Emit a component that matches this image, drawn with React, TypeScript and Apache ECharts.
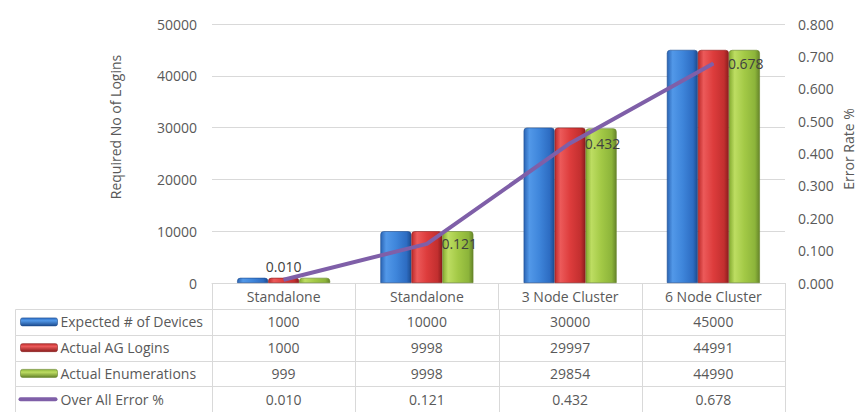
import React, { useEffect, useRef } from "react";
import * as echarts from "echarts";

const categories = ["Standalone", "Standalone", "3 Node Cluster", "6 Node Cluster"];
const expectedDevices = [1000, 10000, 30000, 45000];
const actualLogins = [1000, 9998, 29997, 44991];
const actualEnumerations = [999, 9998, 29854, 44990];
const errorRate = [0.01, 0.121, 0.432, 0.678];
const seriesNames = ["Expected # of Devices", "Actual AG Logins", "Actual Enumerations", "Over All Error %"];
const leftAxisTitle = "Required No of Logins";
const rightAxisTitle = "Error Rate %";

const FONT = "Open Sans";
const TXT = "#595959";
const GRID = "#d9d9d9";

const barColors = [
  { stops: ["#2a64b4", "#5298e8", "#3f86db", "#2d6cc2", "#1d4c8f"], edge: "#1d4c8f" },
  { stops: ["#bd2a2a", "#ec5a5a", "#dd3c3c", "#c22f2f", "#8c1d1d"], edge: "#8c1d1d" },
  { stops: ["#84ab30", "#bddd62", "#a3c946", "#8cb43a", "#66852a"], edge: "#66852a" },
];
const lineColor = "#7f5fa8";

function grad(stops: string[]) {
  return new echarts.graphic.LinearGradient(0, 0, 1, 0, [
    { offset: 0, color: stops[0] },
    { offset: 0.18, color: stops[1] },
    { offset: 0.5, color: stops[2] },
    { offset: 0.85, color: stops[3] },
    { offset: 1, color: stops[4] },
  ]);
}

export default function App() {
  const ref = useRef<HTMLDivElement>(null);
  useEffect(() => {
    if (!ref.current) return;
    const chart = echarts.init(ref.current, undefined, { renderer: "svg" });
    const rows = [expectedDevices, actualLogins, actualEnumerations, errorRate];
    const tableData: number[][] = [];
    rows.forEach((vals, r) => vals.forEach((v, c) => tableData.push([c, r, v])));

    const labelPos = ["top", "right", "right", "right"];

    const option: any = {
      animation: false,
      textStyle: { fontFamily: FONT },
      grid: [
        { left: 212, right: 73, top: 24, bottom: 129 },
        { left: 212, right: 73, top: 309, height: 107 },
      ],
      xAxis: [
        {
          type: "category",
          gridIndex: 0,
          data: categories,
          axisLine: { lineStyle: { color: GRID } },
          axisTick: { show: true, length: 26, lineStyle: { color: GRID } },
          axisLabel: { color: TXT, fontSize: 14, fontFamily: FONT, margin: 6 },
        },
        { type: "category", gridIndex: 1, data: categories, show: false },
      ],
      yAxis: [
        {
          type: "value",
          gridIndex: 0,
          min: 0,
          max: 50000,
          interval: 10000,
          axisLine: { show: false },
          axisTick: { show: false },
          splitLine: { lineStyle: { color: GRID } },
          axisLabel: {
            color: TXT,
            fontSize: 14,
            fontFamily: FONT,
            margin: 15,
            formatter: (v: number) => String(v),
          },
        },
        {
          type: "value",
          gridIndex: 0,
          position: "right",
          min: 0,
          max: 0.8,
          interval: 0.1,
          axisLine: { show: false },
          axisTick: { show: false },
          splitLine: { show: false },
          axisLabel: {
            color: TXT,
            fontSize: 14,
            fontFamily: FONT,
            margin: 13,
            formatter: (v: number) => v.toFixed(3),
          },
        },
        {
          type: "category",
          gridIndex: 1,
          data: seriesNames,
          inverse: true,
          show: false,
        },
      ],
      graphic: [
        {
          type: "text",
          x: 115,
          y: 127,
          rotation: Math.PI / 2,
          style: {
            text: leftAxisTitle,
            fill: TXT,
            font: `14px "${FONT}"`,
            align: "center",
            verticalAlign: "middle",
          },
        },
        {
          type: "text",
          x: 848,
          y: 149,
          rotation: Math.PI / 2,
          style: {
            text: rightAxisTitle,
            fill: TXT,
            font: `14px "${FONT}"`,
            align: "center",
            verticalAlign: "middle",
          },
        },
      ],
      series: [
        ...[expectedDevices, actualLogins, actualEnumerations].map((d, i) => ({
          name: seriesNames[i],
          type: "bar",
          xAxisIndex: 0,
          yAxisIndex: 0,
          data: d,
          barWidth: 31,
          barGap: "0%",
          itemStyle: {
            color: grad(barColors[i].stops),
            borderColor: barColors[i].edge,
            borderWidth: 0.6,
            borderRadius: [3, 3, 0, 0],
          },
        })),
        {
          name: seriesNames[3],
          type: "line",
          xAxisIndex: 0,
          yAxisIndex: 1,
          data: errorRate.map((v, i) => ({
            value: v,
            label: { position: labelPos[i], distance: i === 0 ? 6 : 14 },
          })),
          symbol: "circle",
          symbolSize: 1,
          showSymbol: true,
          itemStyle: { color: lineColor },
          lineStyle: { color: lineColor, width: 4 },
          z: 5,
          label: {
            show: true,
            color: "#404040",
            fontSize: 14,
            fontFamily: FONT,
            formatter: (p: any) => Number(p.value).toFixed(3),
          },
        },
        {
          type: "custom",
          xAxisIndex: 1,
          yAxisIndex: 2,
          data: tableData,
          silent: true,
          renderItem: (params: any, api: any) => {
            const c = api.value(0);
            const r = api.value(1);
            const v = api.value(2);
            const pt = api.coord([c, r]);
            const sz = api.size([1, 1]);
            const w = sz[0];
            const h = sz[1];
            const x0 = Math.round(pt[0] - w / 2) + 0.5;
            const y0 = Math.round(pt[1] - h / 2) + 0.5;
            const x1 = Math.round(pt[0] + w / 2) + 0.5;
            const y1 = Math.round(pt[1] + h / 2) + 0.5;
            const text = r === 3 ? Number(v).toFixed(3) : String(Math.round(v));
            const children: any[] = [
              {
                type: "rect",
                shape: { x: x0, y: y0, width: x1 - x0, height: y1 - y0 },
                style: { fill: "none", stroke: GRID, lineWidth: 1 },
              },
              {
                type: "text",
                style: {
                  text,
                  x: pt[0],
                  y: pt[1],
                  align: "center",
                  verticalAlign: "middle",
                  fill: TXT,
                  font: `14px "${FONT}"`,
                },
              },
            ];
            if (c === 0) {
              const lx = 15.5;
              children.push({
                type: "rect",
                shape: { x: lx, y: y0, width: x0 - lx, height: y1 - y0 },
                style: { fill: "none", stroke: GRID, lineWidth: 1 },
              });
              if (r < 3) {
                children.push({
                  type: "rect",
                  shape: { x: lx + 5, y: pt[1] - 4, width: 37, height: 8, r: 2 },
                  style: {
                    fill: new echarts.graphic.LinearGradient(0, 0, 0, 1, [
                      { offset: 0, color: barColors[r].stops[3] },
                      { offset: 0.35, color: barColors[r].stops[1] },
                      { offset: 1, color: barColors[r].stops[4] },
                    ]),
                    stroke: barColors[r].edge,
                    lineWidth: 0.6,
                  },
                });
              } else {
                children.push({
                  type: "line",
                  shape: { x1: lx + 5, y1: pt[1], x2: lx + 40, y2: pt[1] },
                  style: { stroke: lineColor, lineWidth: 4, lineCap: "round" },
                });
              }
              children.push({
                type: "text",
                style: {
                  text: seriesNames[r],
                  x: lx + 45,
                  y: pt[1],
                  align: "left",
                  verticalAlign: "middle",
                  fill: TXT,
                  font: `14px "${FONT}"`,
                },
              });
            }
            return { type: "group", children };
          },
        },
      ],
    };
    chart.setOption(option);
    return () => chart.dispose();
  }, []);
  return (
    <div
      ref={ref}
      style={{ position: "fixed", left: 0, top: 0, width: 858, height: 412, background: "#fff" }}
    />
  );
}
